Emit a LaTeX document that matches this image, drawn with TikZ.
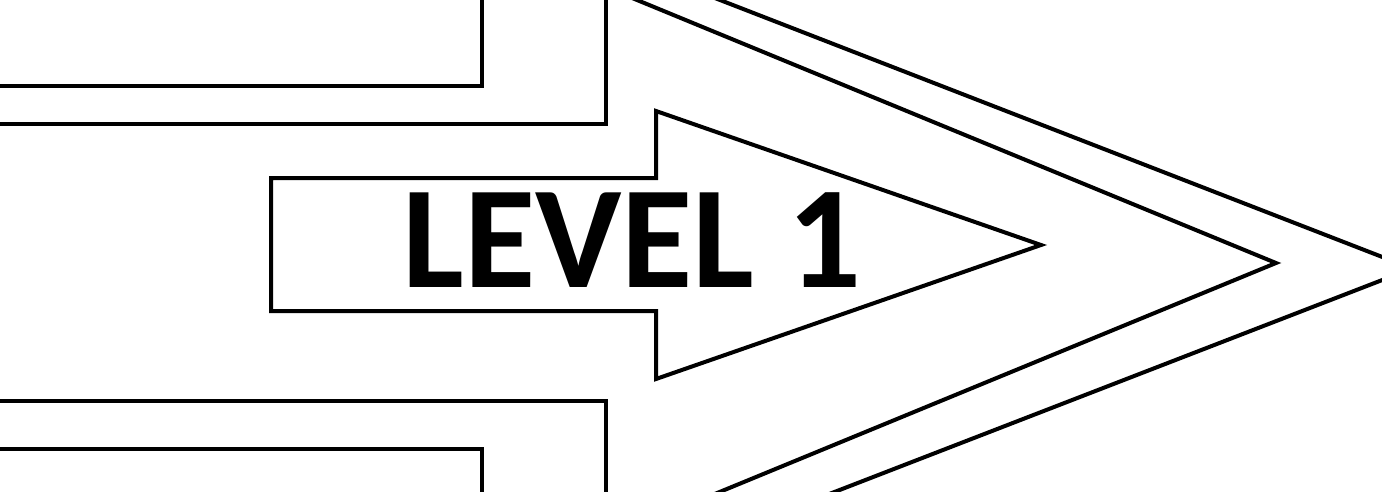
\documentclass[tikz,border=0pt]{standalone}
\usepackage{fontspec}
\setmainfont{Carlito}
\usetikzlibrary{calc}
\begin{document}
\begin{tikzpicture}[x=1pt,y=-1pt,
  edge/.style={draw=black,line width=4pt,line join=miter},
  label/.style={font=\bfseries\fontsize{146}{146}\selectfont,inner sep=0pt,anchor=base}]
\useasboundingbox (0,0) rectangle (1382,491);
\clip (0,0) rectangle (1382,491);
% coordinates
\coordinate (a1) at (-10,86);  \coordinate (a2) at (482,86);  \coordinate (a3) at (482,-10);
\coordinate (b1) at (-10,124); \coordinate (b2) at (606,124); \coordinate (b3) at (606,-10);
\coordinate (c1) at (-10,401); \coordinate (c2) at (606,401); \coordinate (c3) at (606,501);
\coordinate (d1) at (-10,449); \coordinate (d2) at (482,449); \coordinate (d3) at (482,501);
\coordinate (m1) at (637,0);   \coordinate (m2) at (1276,263); \coordinate (m3) at (722,491);
\coordinate (o1) at (720,0);   \coordinate (o2) at (1412,268.5); \coordinate (o3) at (837,491);
% outer frames
\draw[edge] (a1) -- (a2) -- (a3);
\draw[edge] (b1) -- (b2) -- (b3);
\draw[edge] (c1) -- (c2) -- (c3);
\draw[edge] (d1) -- (d2) -- (d3);
\draw[edge] ($(m1)!-0.05!(m2)$) -- (m2) -- ($(m3)!-0.05!(m2)$);
\draw[edge] ($(o1)!-0.05!(o2)$) -- (o2) -- ($(o3)!-0.05!(o2)$);
% inner arrow
\draw[edge] (271,178) -- (656,178) -- (656,111) -- (1041,245) -- (656,379) -- (656,311) -- (271,311) -- cycle;
\node[label] (t) at (632,287) {LEVEL 1};
\end{tikzpicture}
\end{document}
